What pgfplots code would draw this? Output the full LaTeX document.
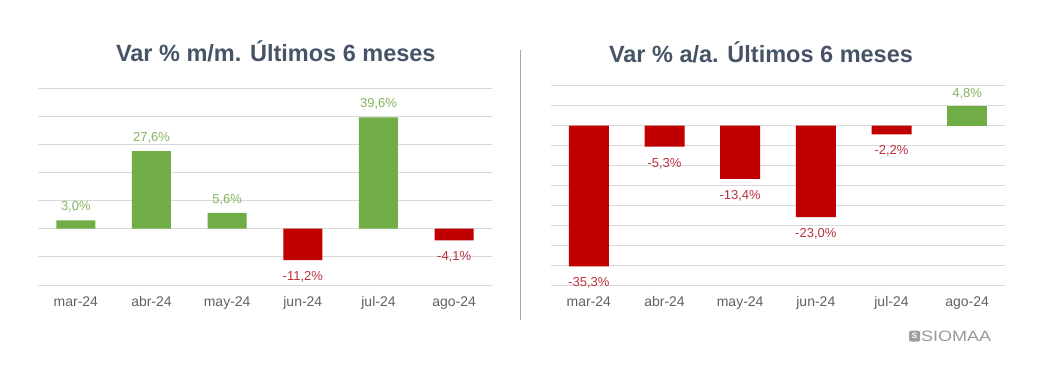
\documentclass[border=0pt]{standalone}
\usepackage{pgfplots}
\pgfplotsset{compat=1.18}
\usepackage{fontspec}
\setmainfont{Liberation Sans}
\definecolor{grn}{HTML}{70AD47}
\definecolor{rd}{HTML}{C00000}
\definecolor{grnl}{HTML}{86B45F}
\definecolor{rdl}{HTML}{B8323F}
\definecolor{grd}{HTML}{D9D9D9}
\definecolor{tickc}{HTML}{606060}
\definecolor{ttl}{HTML}{475467}
\definecolor{sep}{HTML}{A6A6A6}
\pgfplotsset{
  mystyle/.style={
    scale only axis, width=454pt,
    xmin=-0.5, xmax=5.5,
    xtick={0,...,5},
    xticklabels={mar-24,abr-24,may-24,jun-24,jul-24,ago-24},
    axis line style={draw=none},
    major tick length=0pt,
    ymajorgrids, grid style={grd, line width=1pt},
    yticklabel=\empty,
    xticklabel style={font=\fontsize{14}{14}\selectfont, text=tickc, anchor=base, inner sep=0pt, yshift=-21.7pt},
    ybar, bar shift=0pt,
    clip=false,
    point meta=explicit symbolic,
    nodes near coords,
  },
  pos/.style={fill=grn, draw=none,
    every node near coord/.append style={text=grnl, font=\fontsize{13}{13}\selectfont, anchor=base, inner sep=0pt, yshift=9.3pt}},
  neg/.style={fill=rd, draw=none,
    every node near coord/.append style={text=rdl, font=\fontsize{13}{13}\selectfont, anchor=base, inner sep=0pt, yshift=-20.5pt}},
}
\begin{document}
\begin{tikzpicture}
\path[use as bounding box] (0pt,0pt) rectangle (1049pt,365pt);
\node[anchor=base, text=ttl, font=\fontsize{23.5}{23.5}\selectfont\bfseries] at (275.8pt,303.3pt) {Var \% m/m. Últimos 6 meses};
\node[anchor=base, text=ttl, font=\fontsize{23.5}{23.5}\selectfont\bfseries] at (761pt,302.3pt) {Var \% a/a. Últimos 6 meses};
\draw[sep, line width=1.2pt] (520.7pt,315pt) -- (520.7pt,45pt);

\begin{axis}[mystyle, at={(38pt,80pt)}, anchor=south west, height=197pt,
  ymin=-20, ymax=50, ytick={-20,-10,...,50}, bar width=39pt]
\addplot[pos] coordinates {(0,3.0)[3,0\%] (1,27.6)[27,6\%] (2,5.6)[5,6\%] (4,39.6)[39,6\%]};
\addplot[neg] coordinates {(3,-11.2)[-11,2\%] (5,-4.1)[-4,1\%]};
\end{axis}

\begin{axis}[mystyle, at={(551pt,80pt)}, anchor=south west, height=199.3pt,
  ymin=-40, ymax=10, ytick={-40,-35,...,10}, bar width=40pt]
\addplot[neg] coordinates {(0,-35.3)[-35,3\%] (1,-5.3)[-5,3\%] (2,-13.4)[-13,4\%] (3,-23.0)[-23,0\%] (4,-2.2)[-2,2\%]};
\addplot[pos] coordinates {(5,4.8)[4,8\%]};
\end{axis}

\fill[gray!75, rounded corners=2pt] (909pt,23.3pt) rectangle (920pt,34.3pt);
\node[text=white, font=\fontsize{8}{8}\selectfont\bfseries, inner sep=0pt] at (914.5pt,28.8pt) {S};
\node[anchor=base west, inner sep=0pt, text=gray!80] at (921pt,23.3pt) {\scalebox{1.2}[1]{\fontsize{15}{15}\selectfont SIOMAA}};
\end{tikzpicture}
\end{document}
